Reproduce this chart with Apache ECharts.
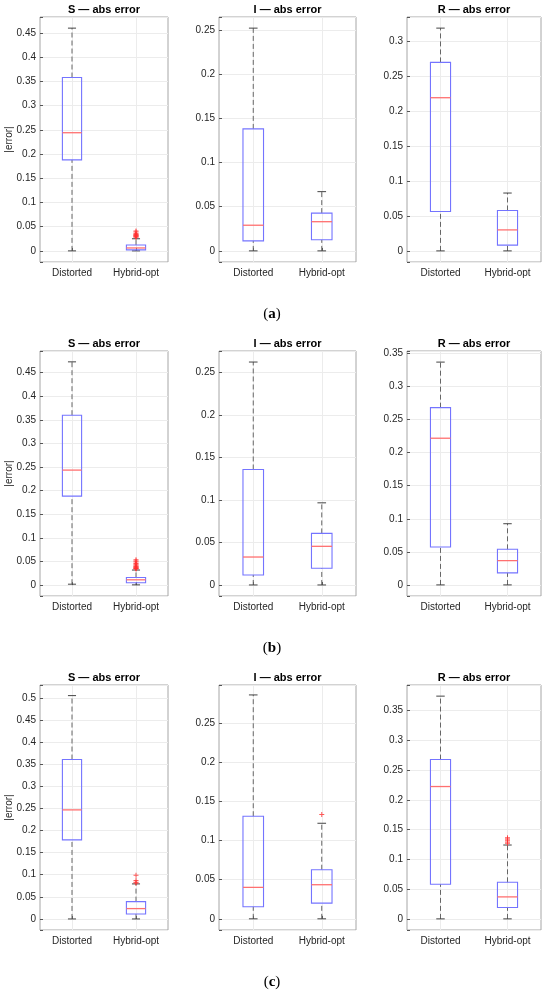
<!DOCTYPE html>
<html>
<head>
<meta charset="utf-8">
<script src="https://cdn.jsdelivr.net/npm/echarts@6/dist/echarts.min.js"></script>
<style>
  html, body { margin: 0; padding: 0; background: #fff; }
  #main { width: 550px; height: 994px; }
</style>
</head>
<body>
<div id="main"></div>
<script>
var categories = ['Distorted', 'Hybrid-opt'];
var panelNames = ['S \u2014 abs error', 'I \u2014 abs error', 'R \u2014 abs error'];
var captions = ['a', 'b', 'c'];

// box stats per category: [min whisker, Q1, median, Q3, max whisker]
var boxA_S = [[0, 0.188, 0.244, 0.358, 0.46], [0, 0.002, 0.006, 0.012, 0.025]];
var boxA_I = [[0, 0.0113, 0.029, 0.138, 0.252], [0, 0.0125, 0.033, 0.0427, 0.067]];
var boxA_R = [[0, 0.0564, 0.219, 0.2695, 0.3185], [0, 0.0082, 0.030, 0.0578, 0.0827]];
var boxB_S = [[0.002, 0.1886, 0.2437, 0.360, 0.473], [0.0006, 0.005, 0.0113, 0.0163, 0.032]];
var boxB_I = [[0, 0.0118, 0.0329, 0.136, 0.2625], [0, 0.0196, 0.0455, 0.0607, 0.0967]];
var boxB_R = [[0, 0.0573, 0.2218, 0.268, 0.3369], [0, 0.0181, 0.0367, 0.0538, 0.0925]];
var boxC_S = [[0, 0.1787, 0.2466, 0.3605, 0.505], [0, 0.0113, 0.0234, 0.0392, 0.0792]];
var boxC_I = [[0, 0.0154, 0.0402, 0.1312, 0.2863], [0, 0.0201, 0.0436, 0.0628, 0.1222]];
var boxC_R = [[0, 0.0581, 0.2222, 0.2675, 0.374], [0, 0.019, 0.0369, 0.0614, 0.124]];

// outliers of the Hybrid-opt boxes
var outA_S = [0.028, 0.029, 0.030, 0.031, 0.032, 0.033, 0.034, 0.036, 0.039, 0.041];
var outA_I = [];
var outA_R = [];
var outB_S = [0.034, 0.035, 0.036, 0.037, 0.038, 0.039, 0.040, 0.042, 0.044, 0.046, 0.049, 0.051, 0.054];
var outB_I = [];
var outB_R = [];
var outC_S = [0.081, 0.083, 0.087, 0.099];
var outC_I = [0.1333];
var outC_R = [0.127, 0.129, 0.132, 0.134, 0.136];

// y axis limits (matlab padded)
var yMinA = [-0.023, -0.0126, -0.0159], yMaxA = [0.483, 0.2646, 0.3344];
var yMinB = [-0.023, -0.013, -0.0168], yMaxB = [0.496, 0.2755, 0.3537];
var yMinC = [-0.025, -0.0143, -0.0187], yMaxC = [0.529, 0.299, 0.3927];

var boxes = [[boxA_S, boxA_I, boxA_R], [boxB_S, boxB_I, boxB_R], [boxC_S, boxC_I, boxC_R]];
var outs = [[outA_S, outA_I, outA_R], [outB_S, outB_I, outB_R], [outC_S, outC_I, outC_R]];
var yMins = [yMinA, yMinB, yMinC];
var yMaxs = [yMaxA, yMaxB, yMaxC];

var colLeft = [40, 219, 407];
var colWidth = [128, 137, 134];
var rowTop = [17, 351, 685];
var rowHeight = 245;
var captionY = [314, 648, 982];

var font = '"Liberation Sans", Arial, Helvetica, sans-serif';

function renderBox(params, api) {
    var x = api.value(0);
    var lo = api.coord([x, api.value(1)]);
    var q1 = api.coord([x, api.value(2)]);
    var md = api.coord([x, api.value(3)]);
    var q3 = api.coord([x, api.value(4)]);
    var hi = api.coord([x, api.value(5)]);
    var half = api.size([1, 0])[0] * 0.15;
    var cap = half * 0.42;
    var cx = md[0];
    var whisk = { stroke: '#666', lineWidth: 1, lineDash: [5, 3] };
    var capStyle = { stroke: '#444', lineWidth: 1 };
    return {
        type: 'group',
        children: [
            { type: 'line', shape: { x1: cx, y1: q3[1], x2: cx, y2: hi[1] }, style: whisk },
            { type: 'line', shape: { x1: cx, y1: lo[1], x2: cx, y2: q1[1] }, style: whisk },
            { type: 'line', shape: { x1: cx - cap, y1: hi[1], x2: cx + cap, y2: hi[1] }, style: capStyle },
            { type: 'line', shape: { x1: cx - cap, y1: lo[1], x2: cx + cap, y2: lo[1] }, style: capStyle },
            { type: 'rect', shape: { x: cx - half, y: q3[1], width: half * 2, height: q1[1] - q3[1] },
              style: { fill: 'none', stroke: '#7474ff', lineWidth: 1.1 } },
            { type: 'line', shape: { x1: cx - half, y1: md[1], x2: cx + half, y2: md[1] },
              style: { stroke: '#ff7070', lineWidth: 1.3 } }
        ]
    };
}

function tickLabel(v) {
    var k = v / 0.05;
    if (Math.abs(k - Math.round(k)) > 1e-6) return '';
    return String(+v.toFixed(2));
}

var grids = [], xAxes = [], yAxes = [], series = [], graphics = [];

for (var r = 0; r < 3; r++) {
    for (var c = 0; c < 3; c++) {
        var gi = r * 3 + c;
        grids.push({
            left: colLeft[c], top: rowTop[r], width: colWidth[c], height: rowHeight,
            show: true, borderColor: '#a6a6a6', borderWidth: 1, backgroundColor: '#fff'
        });
        xAxes.push({
            type: 'category', gridIndex: gi, data: categories, boundaryGap: true,
            axisLine: { show: false },
            axisTick: { show: true, inside: true, alignWithLabel: true, length: 3, lineStyle: { color: '#555' } },
            axisLabel: { fontSize: 10, color: '#262626', margin: 6, fontFamily: font },
            splitLine: { show: true, alignWithLabel: true, lineStyle: { color: '#ececec', width: 1 } }
        });
        var ya = {
            type: 'value', gridIndex: gi, min: yMins[r][c], max: yMaxs[r][c],
            splitNumber: 10, minInterval: 0.05, maxInterval: 0.05,
            axisLine: { show: false },
            axisTick: { show: true, inside: true, length: 3, lineStyle: { color: '#555' } },
            axisLabel: { fontSize: 10, color: '#262626', margin: 4, fontFamily: font, formatter: tickLabel },
            splitLine: { show: true, lineStyle: { color: '#ececec', width: 1 } }
        };
        if (c === 0) {
            ya.name = '|error|';
            ya.nameLocation = 'middle';
            ya.nameGap = 26;
            ya.nameMoveOverlap = false;
            ya.nameTextStyle = { fontSize: 10, color: '#262626', fontFamily: font };
        }
        yAxes.push(ya);

        series.push({
            type: 'custom', xAxisIndex: gi, yAxisIndex: gi,
            renderItem: renderBox,
            encode: { x: 0, y: [1, 2, 3, 4, 5] },
            data: boxes[r][c].map(function (b, i) { return [i].concat(b); }),
            z: 3
        });
        series.push({
            type: 'scatter', xAxisIndex: gi, yAxisIndex: gi,
            symbol: 'path://M4,0H6V4H10V6H6V10H4V6H0V4H4Z', symbolSize: 5,
            itemStyle: { color: '#ff3030' },
            data: outs[r][c].map(function (v) { return [1, v]; }),
            z: 4
        });

        graphics.push({
            type: 'text', x: colLeft[c] + colWidth[c] / 2, y: rowTop[r] - 7,
            style: { text: panelNames[c], fontSize: 11, fontWeight: 'bold', fontFamily: font,
                     fill: '#000', textAlign: 'center', textVerticalAlign: 'middle' }
        });
    }
    graphics.push({
        type: 'text', x: 272, y: captionY[r],
        style: {
            text: '({b|' + captions[r] + '})',
            fontSize: 15, fontFamily: '"Liberation Serif", "DejaVu Serif", serif', fill: '#000',
            textAlign: 'center', textVerticalAlign: 'middle',
            rich: { b: { fontSize: 15, fontWeight: 'bold', fontFamily: '"Liberation Serif", "DejaVu Serif", serif' } }
        }
    });
}

var myChart = echarts.init(document.getElementById('main'));
var option = {
    backgroundColor: '#fff',
    animation: false,
    grid: grids,
    xAxis: xAxes,
    yAxis: yAxes,
    series: series,
    graphic: graphics
};
myChart.setOption(option);
</script>
</body>
</html>
